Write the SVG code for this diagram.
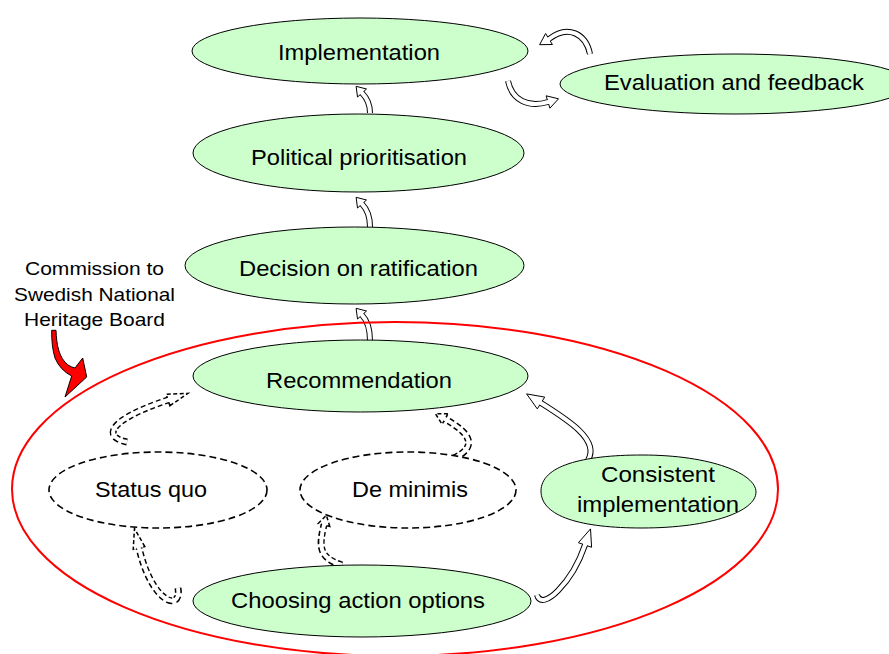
<svg xmlns="http://www.w3.org/2000/svg" width="889" height="654" viewBox="0 0 889 654">
<style>
.node{fill:#ccffcc;stroke:#000;stroke-width:1}
.opt{fill:#fff;stroke:#000;stroke-width:1.6;stroke-dasharray:7 4}
.lbl{font-family:"Liberation Sans",Arial,sans-serif;font-size:22px;fill:#000;text-anchor:middle}
.cm{font-family:"Liberation Sans",Arial,sans-serif;font-size:19px;fill:#000;text-anchor:middle}
.so{fill:none;stroke:#000;stroke-width:6}
.si{fill:none;stroke:#fff;stroke-width:4}
.hd{fill:#fff;stroke:#000;stroke-width:1;stroke-linejoin:miter}
.dso{fill:none;stroke:#000;stroke-width:7;stroke-dasharray:5 3}
.dsi{fill:none;stroke:#fff;stroke-width:4}
.dhd{fill:#fff;stroke:#000;stroke-width:1.5;stroke-dasharray:4 2.5}
</style>
<rect width="889" height="654" fill="#fff"/>
<g id="connectors">
  <!-- Political -> Implementation -->
  <polygon class="hd" points="366.5,89 356.1,86.3 357.5,97"/>
  <path class="so" d="M370,113 C370,105 366.6,97.7 362,93"/>
  <path class="si" d="M370,113 C370,105 366.6,97.7 362,93 L361,91.9"/>
  <!-- Decision -> Political -->
  <polygon class="hd" points="366.5,200 356.1,197.3 357.5,208"/>
  <path class="so" d="M370,227 C370,217 366.6,208.7 362,204"/>
  <path class="si" d="M370,227 C370,217 366.6,208.7 362,204 L361,202.9"/>
  <!-- Recommendation -> Decision -->
  <polygon class="hd" points="366.5,311 356.1,308.3 357.5,319"/>
  <path class="so" d="M370,341 C370,329 366.6,319.7 362,315"/>
  <path class="si" d="M370,341 C370,329 366.6,319.7 362,315 L361,313.9"/>
  <!-- Evaluation -> Implementation -->
  <polygon class="hd" points="552.4,44.5 539.6,44.7 545.6,33.5"/>
  <path class="so" d="M590,54 C586,34 568,24 549,39"/>
  <path class="si" d="M590,54 C586,34 568,24 549,39 L547.7,39.8"/>
  <!-- Implementation -> Evaluation -->
  <polygon class="hd" points="549.9,108.2 558.5,98.8 546.1,95.8"/>
  <path class="so" d="M508,81 C512,100 528,108 548,102"/>
  <path class="si" d="M508,81 C512,100 528,108 548,102 L549.4,101.6"/>
  <!-- Consistent -> Recommendation -->
  <polygon class="hd" points="544.7,397.1 526.6,393.9 537.3,408.9"/>
  <path class="so" d="M588,460 C600,440 568,420 541,403"/>
  <path class="si" d="M588,460 C600,440 568,420 541,403 L539.7,402.2"/>
  <!-- Choosing -> Consistent -->
  <polygon class="hd" points="591.6,547.3 590.5,528.9 578.4,542.7"/>
  <path class="so" d="M537,595 C542,612 572,583 585,545"/>
  <path class="si" d="M537,595 C542,612 572,583 585,545 L585.5,543.6"/>
  <!-- Status quo -> Recommendation (dashed) -->
  <polygon class="dhd" points="169.9,405.7 187.9,393.4 166.1,394.3"/>
  <path class="dso" d="M127,442 C102,437 108,420 168,400"/>
  <path class="dsi" d="M127,442 C102,437 108,420 168,400 L169.4,399.5"/>
  <!-- Choosing -> Status quo (dashed) -->
  <polygon class="dhd" points="144.8,546.6 134.5,528.5 133.2,549.4"/>
  <path class="dso" d="M178,588 C182,612 152,604 139,548"/>
  <path class="dsi" d="M178,588 C182,612 152,604 139,548 L138.7,546.5"/>
  <!-- Choosing -> De minimis (dashed) -->
  <polygon class="dhd" points="329.8,526.5 326.4,515.3 318.2,523.5"/>
  <path class="dso" d="M342,565 C318,558 319,545 324,525"/>
  <path class="dsi" d="M342,565 C318,558 319,545 324,525 L324.4,523.5"/>
  <!-- De minimis -> Recommendation (dashed) -->
  <polygon class="dhd" points="447.9,413.8 435.4,413.7 442.1,424.2"/>
  <path class="dso" d="M454,458 C477,447 472,434 445,419"/>
  <path class="dsi" d="M454,458 C477,447 472,434 445,419 L443.7,418.3"/>
  <!-- Commission arrow (red) -->
  <path fill="#ff0000" stroke="#000" stroke-width="1" d="M51.7,330.3 L56,330.3 C56.5,345 59,358 68,365 Q72,367.5 75,368 L82.7,358 L86.7,377 L65,397 L71.7,376 Q60,370 55,358 C52.5,350 51.5,340 51.7,330.3 Z"/>
</g>
<g id="scope">
  <ellipse cx="395" cy="489" rx="383" ry="167" fill="none" stroke="#ff0000" stroke-width="2"/>
</g>
<g id="commission">
  <text class="cm" x="94.5" y="275" textLength="139" lengthAdjust="spacingAndGlyphs">Commission to</text>
  <text class="cm" x="94.5" y="301" textLength="161" lengthAdjust="spacingAndGlyphs">Swedish National</text>
  <text class="cm" x="94.5" y="326" textLength="141" lengthAdjust="spacingAndGlyphs">Heritage Board</text>
</g>
<g id="implementation">
  <ellipse class="node" cx="360" cy="51" rx="168" ry="33"/>
  <text class="lbl" x="359" y="60" textLength="162" lengthAdjust="spacingAndGlyphs">Implementation</text>
</g>
<g id="evaluation">
  <ellipse class="node" cx="735" cy="84" rx="175" ry="30"/>
  <text class="lbl" x="734" y="90" textLength="260" lengthAdjust="spacingAndGlyphs">Evaluation and feedback</text>
</g>
<g id="political">
  <ellipse class="node" cx="358.5" cy="153" rx="165.5" ry="39"/>
  <text class="lbl" x="359" y="165" textLength="216" lengthAdjust="spacingAndGlyphs">Political prioritisation</text>
</g>
<g id="decision">
  <ellipse class="node" cx="354.5" cy="265.5" rx="169.5" ry="38.5"/>
  <text class="lbl" x="358.5" y="276" textLength="239" lengthAdjust="spacingAndGlyphs">Decision on ratification</text>
</g>
<g id="recommendation">
  <ellipse class="node" cx="360.5" cy="376" rx="167.5" ry="36"/>
  <text class="lbl" x="359" y="388" textLength="186" lengthAdjust="spacingAndGlyphs">Recommendation</text>
</g>
<g id="status-quo">
  <ellipse class="opt" cx="158" cy="490" rx="109" ry="38"/>
  <text class="lbl" x="151" y="497" textLength="112" lengthAdjust="spacingAndGlyphs">Status quo</text>
</g>
<g id="de-minimis">
  <ellipse class="opt" cx="408" cy="490" rx="108" ry="38"/>
  <text class="lbl" x="410" y="497" textLength="116" lengthAdjust="spacingAndGlyphs">De minimis</text>
</g>
<g id="consistent">
  <path class="node" d="M541,491 C541,466 582,455 642,455 C712,455 756,474 756,492 C756,511 712,528 642,528 C582,528 541,517 541,491 Z"/>
  <text class="lbl" x="658" y="482" textLength="114" lengthAdjust="spacingAndGlyphs">Consistent</text>
  <text class="lbl" x="658" y="512" textLength="162" lengthAdjust="spacingAndGlyphs">implementation</text>
</g>
<g id="choosing">
  <ellipse class="node" cx="362" cy="601" rx="169" ry="36"/>
  <text class="lbl" x="358" y="608" textLength="254" lengthAdjust="spacingAndGlyphs">Choosing action options</text>
</g>
</svg>
